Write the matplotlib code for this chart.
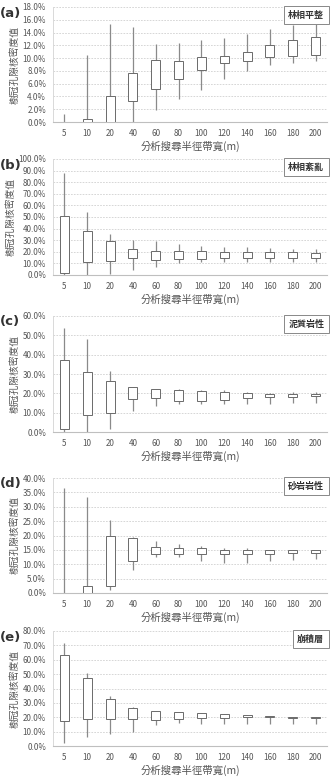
import matplotlib
matplotlib.use("Agg")
import matplotlib.pyplot as plt
from matplotlib.ticker import FuncFormatter, MultipleLocator

plt.rcParams['font.family'] = ['Noto Sans CJK TC', 'DejaVu Sans']

categories = ['5', '10', '20', '40', '60', '80', '100', '120', '140', '160', '180', '200']

# panel (a) 林相平整
a_min = [0.0, 0.0, 0.0, 0.0, 1.9, 3.6, 5.0, 6.7, 8.0, 8.9, 9.2, 9.5]
a_q1 = [0.0, 0.0, 0.0, 3.3, 5.2, 6.8, 8.1, 9.2, 9.6, 10.1, 10.4, 10.5]
a_q3 = [0.05, 0.5, 4.0, 7.7, 9.7, 9.6, 10.2, 10.4, 11.0, 12.1, 12.9, 13.3]
a_max = [1.2, 10.5, 15.3, 14.9, 12.2, 12.4, 12.8, 13.2, 13.8, 14.5, 15.2, 15.7]

# panel (b) 林相紊亂
b_min = [0.0, 0.0, 1.0, 4.5, 7.0, 10.0, 11.0, 11.5, 11.0, 11.0, 11.0, 11.0]
b_q1 = [2.0, 11.0, 12.5, 14.5, 13.0, 13.5, 14.0, 14.5, 14.5, 14.5, 14.5, 14.5]
b_q3 = [51.0, 38.0, 29.0, 22.5, 21.0, 20.5, 20.5, 20.0, 20.0, 19.5, 19.5, 19.0]
b_max = [88.0, 54.0, 35.0, 30.0, 29.0, 27.0, 25.0, 24.0, 24.0, 23.0, 22.5, 22.0]

# panel (c) 泥質岩性
c_min = [0.0, 0.0, 1.5, 11.0, 13.5, 14.5, 14.5, 14.5, 14.5, 14.5, 15.0, 15.0]
c_q1 = [1.5, 9.0, 10.0, 17.0, 17.5, 16.0, 16.0, 16.5, 17.5, 18.0, 18.0, 18.5]
c_q3 = [37.0, 31.0, 26.5, 23.5, 22.0, 21.5, 21.0, 20.5, 20.0, 19.5, 19.5, 19.5]
c_max = [54.0, 48.0, 31.5, 23.5, 22.5, 22.5, 21.5, 21.5, 20.5, 20.0, 20.5, 20.5]

# panel (d) 砂岩岩性
d_min = [0.0, 0.0, 1.0, 8.0, 12.5, 12.5, 11.0, 10.5, 10.5, 11.0, 11.5, 12.0]
d_q1 = [0.0, 0.0, 2.5, 11.0, 13.5, 13.5, 13.5, 13.5, 13.5, 13.5, 14.0, 13.8]
d_q3 = [0.1, 2.5, 20.0, 19.0, 16.0, 15.5, 15.5, 15.0, 15.0, 15.0, 15.0, 15.0]
d_max = [36.5, 33.5, 25.5, 19.5, 18.0, 17.0, 16.5, 15.5, 15.5, 15.0, 15.0, 15.0]

# panel (e) 崩積層
e_min = [2.0, 6.0, 8.5, 10.0, 14.5, 16.0, 15.5, 15.5, 15.5, 15.5, 15.5, 15.5]
e_q1 = [17.5, 19.0, 19.0, 19.0, 18.0, 18.5, 19.5, 19.5, 20.0, 20.0, 19.5, 19.5]
e_q3 = [63.0, 47.5, 33.0, 26.5, 24.5, 24.0, 23.0, 22.0, 21.5, 21.0, 20.5, 20.0]
e_max = [72.0, 50.5, 35.0, 27.0, 24.5, 24.0, 23.0, 22.0, 21.5, 21.0, 20.5, 20.0]

panels = [
    ('(a)', '林相平整', a_min, a_q1, a_q3, a_max, 18, 2),
    ('(b)', '林相紊亂', b_min, b_q1, b_q3, b_max, 100, 10),
    ('(c)', '泥質岩性', c_min, c_q1, c_q3, c_max, 60, 10),
    ('(d)', '砂岩岩性', d_min, d_q1, d_q3, d_max, 40, 5),
    ('(e)', '崩積層', e_min, e_q1, e_q3, e_max, 80, 10),
]

W, H = 334, 779
fig = plt.figure(figsize=(W / 100, H / 100), dpi=100)
fig.patch.set_facecolor('white')

# (top, bottom) pixel positions of each plot area
tops_bottoms = [(7, 122), (159, 275), (316, 432), (478, 593), (631, 746)]
left_px, right_px = 53, 327

for (lab, name, mn, q1, q3, mx, ymax, step), (tp, bt) in zip(panels, tops_bottoms):
    ax = fig.add_axes([left_px / W, 1 - bt / H, (right_px - left_px) / W, (bt - tp) / H])
    x = list(range(len(categories)))
    ax.vlines(x, mn, mx, color='#8a8a8a', lw=0.9, zorder=2)
    heights = [b - a for a, b in zip(q1, q3)]
    ax.bar(x, heights, bottom=q1, width=0.4, facecolor='white',
           edgecolor='#6a6a6a', lw=0.7, zorder=3)
    ax.set_xlim(-0.5, len(categories) - 0.5)
    ax.set_ylim(0, ymax)
    ax.yaxis.set_major_locator(MultipleLocator(step))
    ax.yaxis.set_major_formatter(FuncFormatter(lambda v, p: f'{v:.1f}%'))
    ax.set_xticks(x)
    ax.set_xticklabels(categories)
    ax.tick_params(axis='both', length=0, labelsize=5.8, colors='#555555', pad=5)
    ax.tick_params(axis='x', pad=5)
    ax.grid(axis='y', color='#d0d0d0', lw=0.6, ls=(0, (2, 1.5)), zorder=0)
    ax.set_axisbelow(True)
    for s in ['top', 'right']:
        ax.spines[s].set_visible(False)
    ax.spines['left'].set_color('#d9d9d9')
    ax.spines['left'].set_linewidth(0.7)
    ax.spines['bottom'].set_color('#bfbfbf')
    ax.spines['bottom'].set_linewidth(0.8)
    ax.set_ylabel('樹冠孔隙核密度值', fontsize=7, color='#555555', labelpad=2)
    ax.set_xlabel('分析搜尋半徑帶寬(m)', fontsize=7.5, color='#555555', labelpad=2)
    ax.text(0.99, 0.97, name, transform=ax.transAxes, ha='right', va='top',
            fontsize=6.5, color='#333333', fontweight='bold', zorder=5,
            bbox=dict(boxstyle='square,pad=0.5', facecolor='white', edgecolor='#888888', lw=0.7))
    fig.text(0, 1 - (tp + 6) / H, lab, fontsize=9.5, fontweight='bold',
             color='#333333', ha='left', va='center', family='DejaVu Sans')

fig.savefig('out.png', dpi=100, facecolor='white')
